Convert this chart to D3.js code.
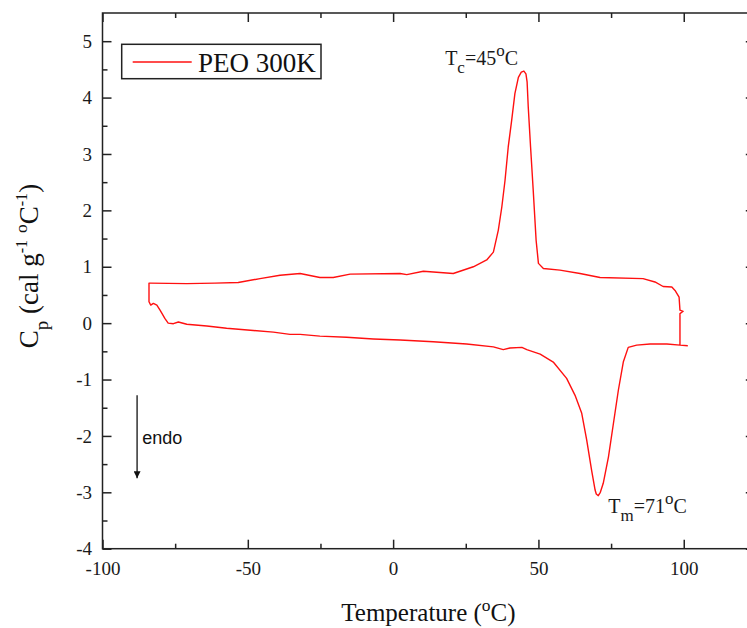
<!DOCTYPE html>
<html><head><meta charset="utf-8">
<script src="https://cdn.jsdelivr.net/npm/d3@7"></script>
<style>body{margin:0;background:#fff}svg{display:block}</style>
</head><body>
<script>
// ---- data ----
const seriesName = "PEO 300K";
// single DSC loop, in drawing order: heating (lower) right->left, then cooling (upper) left->right
const temperature = [101.4,98.7,94.2,88.4,83.8,80.9,79.2,77.5,75.8,74.1,72.3,71.3,70.6,69.9,69.5,68.3,66.6,64.9,62.6,59.7,55.1,50.6,46.0,44.3,40.2,37.9,34.5,25.3,13.8,2.4,-6.8,-16.0,-25.2,-32.0,-35.5,-41.2,-48.1,-57.3,-64.1,-71.0,-73.9,-75.6,-77.4,-78.5,-80.2,-81.3,-82.5,-83.4,-84.0,-84.0,
  -83.7,-71.0,-61.3,-53.3,-45.8,-38.9,-32.0,-25.2,-20.6,-14.8,2.4,4.7,10.4,18.4,20.7,27.6,32.2,34.5,36.2,37.4,38.5,39.6,40.8,41.9,43.1,44.1,45.0,45.7,46.1,46.5,47.3,48.2,49.2,50.0,51.7,57.4,64.3,71.2,86.0,90.1,92.9,95.9,97.0,98.4,98.7,99.8,98.7,98.7];
const cp = [-0.40,-0.39,-0.37,-0.37,-0.39,-0.43,-0.69,-1.19,-1.78,-2.37,-2.84,-3.00,-3.06,-3.03,-2.96,-2.61,-2.07,-1.60,-1.28,-0.98,-0.69,-0.55,-0.47,-0.43,-0.44,-0.47,-0.42,-0.37,-0.33,-0.30,-0.28,-0.25,-0.23,-0.20,-0.20,-0.16,-0.13,-0.09,-0.05,-0.02,0.02,-0.01,0.00,0.08,0.23,0.32,0.35,0.32,0.38,0.71,
  0.71,0.70,0.71,0.72,0.79,0.85,0.88,0.81,0.81,0.87,0.88,0.86,0.92,0.89,0.88,1.00,1.12,1.26,1.65,2.06,2.53,3.12,3.60,4.07,4.36,4.45,4.47,4.42,4.28,3.83,3.12,2.36,1.47,1.06,0.97,0.94,0.88,0.81,0.79,0.73,0.65,0.64,0.58,0.46,0.23,0.21,0.17,-0.39];
const xMajorTicks = [-100,-50,0,50,100];
const xMinorTicks = [-75,-25,25,75];
const yMajorTicks = [-4,-3,-2,-1,0,1,2,3,4,5];
const yMinorTicks = [-3.5,-2.5,-1.5,-0.5,0.5,1.5,2.5,3.5,4.5];
const xDomain = [-100,125];
const yDomain = [-4,5.5];
// annotations
const peakLabels = [
  {T:17.9, C:4.57, main:"T", sub:"c", rest:"=45", sup:"o", end:"C"},
  {T:74.0, C:-3.37, main:"T", sub:"m", rest:"=71", sup:"o", end:"C"}
];
const endoArrow = {T:-88.1, from:-1.28, to:-2.75, labelT:-86.3, labelC:-2.14, text:"endo"};

// ---- drawing ----
const W=747,H=628;
const L=102.5,R=756.4,T0=13,B=548.7;
const serif="'Liberation Serif','Times New Roman',serif";
const svg=d3.select("body").append("svg").attr("width",W).attr("height",H);
const x=d3.scaleLinear().domain(xDomain).range([L,R]);
const y=d3.scaleLinear().domain(yDomain).range([B,T0]);
const axisColor="#222";

function styleAxis(g){
  g.select(".domain").remove();
  g.selectAll("line").attr("stroke",axisColor).attr("stroke-width",1.5);
  g.selectAll("text").attr("font-family",serif).attr("font-size",19).attr("fill","#1a1a1a");
}
// bottom
svg.append("g").attr("transform",`translate(0,${B})`)
  .call(d3.axisBottom(x).tickValues(xMajorTicks).tickSize(-9).tickPadding(13).tickFormat(d=>d)).call(styleAxis);
svg.append("g").attr("transform",`translate(0,${B})`)
  .call(d3.axisBottom(x).tickValues(xMinorTicks).tickSize(-5).tickFormat("")).call(styleAxis);
// top
svg.append("g").attr("transform",`translate(0,${T0})`)
  .call(d3.axisTop(x).tickValues(xMajorTicks).tickSize(-9).tickFormat("")).call(styleAxis);
svg.append("g").attr("transform",`translate(0,${T0})`)
  .call(d3.axisTop(x).tickValues(xMinorTicks).tickSize(-5).tickFormat("")).call(styleAxis);
// left
svg.append("g").attr("transform",`translate(${L},0)`)
  .call(d3.axisLeft(y).tickValues(yMajorTicks).tickSize(-9).tickPadding(10.5).tickFormat(d=>d)).call(styleAxis);
svg.append("g").attr("transform",`translate(${L},0)`)
  .call(d3.axisLeft(y).tickValues(yMinorTicks).tickSize(-5).tickFormat("")).call(styleAxis);
// right
svg.append("g").attr("transform",`translate(${R},0)`)
  .call(d3.axisRight(y).tickValues(yMajorTicks).tickSize(-10.6).tickFormat("")).call(styleAxis);
svg.append("g").attr("transform",`translate(${R},0)`)
  .call(d3.axisRight(y).tickValues(yMinorTicks).tickSize(-5).tickFormat("")).call(styleAxis);
// frame
svg.append("rect").attr("x",L).attr("y",T0).attr("width",R-L).attr("height",B-T0)
  .attr("fill","none").attr("stroke",axisColor).attr("stroke-width",1.5);

// curve
const pts=temperature.map((t,i)=>[t,cp[i]]);
svg.append("path").datum(pts)
  .attr("d",d3.line().x(d=>x(d[0])).y(d=>y(d[1])))
  .attr("fill","none").attr("stroke","#ff1010").attr("stroke-width",1.4).attr("stroke-linejoin","round");

// rich text helper: segs {t, shift(em, + = down), scale}
function rich(sel,segs,fs){
  let prev=0;
  segs.forEach(s=>{
    const sh=(s.shift||0)*fs;
    sel.append("tspan").attr("dy",sh-prev).attr("font-size",fs*(s.scale||1)).text(s.t);
    prev=sh;
  });
}
// peak labels
peakLabels.forEach(p=>{
  const t=svg.append("text").attr("x",x(p.T)).attr("y",y(p.C))
    .attr("font-family",serif).attr("fill","#1a1a1a");
  rich(t,[{t:p.main},{t:p.sub,shift:0.38,scale:0.85},{t:p.rest},{t:p.sup,shift:-0.45,scale:0.85},{t:p.end}],20);
});
// endo arrow
svg.append("defs").append("marker").attr("id","ah").attr("viewBox","0 0 10 10")
  .attr("refX",10).attr("refY",5).attr("markerWidth",7).attr("markerHeight",7)
  .attr("markerUnits","userSpaceOnUse").attr("orient","auto")
  .append("path").attr("d","M0,0L10,5L0,10z").attr("fill","#111");
svg.append("line").attr("x1",x(endoArrow.T)).attr("x2",x(endoArrow.T))
  .attr("y1",y(endoArrow.from)).attr("y2",y(endoArrow.to))
  .attr("stroke","#111").attr("stroke-width",1.3).attr("marker-end","url(#ah)");
svg.append("text").attr("x",x(endoArrow.labelT)).attr("y",y(endoArrow.labelC))
  .attr("font-family","'Liberation Sans',Arial,sans-serif").attr("font-size",18).attr("fill","#111")
  .text(endoArrow.text);

// legend
svg.append("rect").attr("x",121.7).attr("y",44.3).attr("width",199.3).attr("height",34.4)
  .attr("fill","#fff").attr("stroke",axisColor).attr("stroke-width",1.5);
svg.append("line").attr("x1",132.7).attr("x2",191.7).attr("y1",62).attr("y2",62)
  .attr("stroke","#ff1010").attr("stroke-width",1.4);
svg.append("text").attr("x",198).attr("y",72).attr("font-family",serif).attr("font-size",27)
  .attr("fill","#111").text(seriesName);

// axis titles
const xt=svg.append("text").attr("x",(L+R)/2-1).attr("y",621).attr("text-anchor","middle")
  .attr("font-family",serif).attr("fill","#111");
rich(xt,[{t:"Temperature ("},{t:"o",shift:-0.42,scale:0.7},{t:"C)"}],25);
const yt=svg.append("text").attr("transform","translate(38,266) rotate(-90)").attr("text-anchor","middle")
  .attr("font-family",serif).attr("fill","#111");
rich(yt,[{t:"C"},{t:"p",shift:0.38,scale:0.7},{t:" (cal g"},{t:"-1",shift:-0.4,scale:0.6},{t:" "},{t:"o",shift:-0.4,scale:0.65},{t:"C"},{t:"-1",shift:-0.4,scale:0.6},{t:")"}],27);
</script>
</body></html>
